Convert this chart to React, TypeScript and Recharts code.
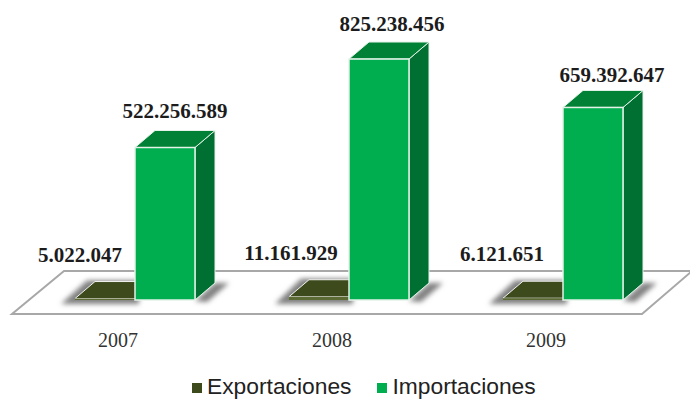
import { BarChart, Bar, XAxis, YAxis, Legend, LabelList } from 'recharts';

const years = ['2007', '2008', '2009'];
const exportaciones = [5022047, 11161929, 6121651];
const importaciones = [522256589, 825238456, 659392647];

const chartData = years.map((year, i) => ({
  year,
  Exportaciones: exportaciones[i],
  Importaciones: importaciones[i],
}));

const serif = '"Liberation Serif", serif';
const DEPTH_X = 20;
const DEPTH_Y = 17;

// how far each value label sits from its bar
const expNudge = [-25, -28, -31];
const impNudge = [10, 13, 19];
const expLift = [37, 37, 37];
const impLift = [30, 28, 25];

const fmt = (v: number) => v.toLocaleString('de-DE');

function Box3D(props: any) {
  const { x, y, width, height } = props;
  const r = x + width;
  const b = y + height;
  return (
    <g>
      <polygon
        points={`${r},${b + 1} ${r + DEPTH_X},${b - DEPTH_Y} ${r + 34},${b - DEPTH_Y} ${r + 12},${b + 2}`}
        fill="#808080"
        filter="url(#floorBlur)"
      />
      <polygon
        points={`${r},${y} ${r + DEPTH_X},${y - DEPTH_Y} ${r + DEPTH_X},${b - DEPTH_Y} ${r},${b}`}
        fill="#006F32"
        stroke="#e4f2e8"
        strokeWidth={1}
      />
      <polygon
        points={`${x},${y} ${x + DEPTH_X},${y - DEPTH_Y} ${r + DEPTH_X},${y - DEPTH_Y} ${r},${y}`}
        fill="#008135"
        stroke="#e4f2e8"
        strokeWidth={1}
      />
      <rect x={x} y={y} width={width} height={height} fill="#00AE4F" stroke="#e4f2e8" strokeWidth={1.5} />
    </g>
  );
}

function FlatBar(props: any) {
  const { x, y, width, height } = props;
  const r = x + width;
  const b = y + height;
  return (
    <g>
      <polygon
        points={`${x - 14},${b + 4} ${x + DEPTH_X - 8},${y - DEPTH_Y - 1} ${r + 4},${y - DEPTH_Y - 1} ${r + 4},${b + 4}`}
        fill="#808080"
        filter="url(#floorBlur)"
      />
      <polygon
        points={`${x},${y} ${x + DEPTH_X},${y - DEPTH_Y} ${r + DEPTH_X},${y - DEPTH_Y} ${r},${y}`}
        fill="#3C4A1C"
        stroke="#f2f2f2"
        strokeWidth={1}
      />
      <rect x={x} y={y} width={width} height={height} fill="#5c6a34" />
    </g>
  );
}

function ValueLabel(props: any) {
  const { x, y, width, value, index, nudge, lift } = props;
  return (
    <text
      x={x + width / 2 + nudge[index]}
      y={y - lift[index]}
      textAnchor="middle"
      fontFamily={serif}
      fontWeight="bold"
      fontSize={21}
      fill="#1c1c1c"
    >
      {fmt(value)}
    </text>
  );
}

function LegendRow(props: any) {
  return (
    <div style={{ display: 'flex', position: 'absolute', left: 192, top: 376, whiteSpace: 'nowrap' }}>
      {props.payload.map((item: any) => (
        <div key={item.value} style={{ display: 'flex', alignItems: 'center', marginRight: 26 }}>
          <span style={{ width: 10, height: 10, background: item.color, marginRight: 5, marginTop: 3 }} />
          <span style={{ fontFamily: '"Liberation Sans", sans-serif', fontSize: 22.8, lineHeight: '20px', color: '#222' }}>
            {item.value}
          </span>
        </div>
      ))}
    </div>
  );
}

export default function App() {
  return (
    <div style={{ position: 'absolute', left: 0, top: 0, width: 690, height: 400, background: '#fff' }}>
      <svg width={690} height={400} style={{ position: 'absolute', left: 0, top: 0 }}>
        <polygon points="64,271 692,271 642,314 12,314" fill="#fff" stroke="#a8a8a8" strokeWidth={2} />
      </svg>
      <div style={{ position: 'absolute', left: 0, top: 0 }}>
        <BarChart
          width={690}
          height={400}
          data={chartData}
          margin={{ top: 8, right: 20, bottom: 70, left: 28 }}
          barGap={0}
          barSize={60}
        >
          <defs>
            <filter id="floorBlur" x="-30%" y="-30%" width="160%" height="160%">
              <feGaussianBlur stdDeviation="2.5" />
            </filter>
          </defs>
          <XAxis
            dataKey="year"
            axisLine={false}
            tickLine={false}
            height={30}
            interval={0}
            dx={-17}
            dy={25}
            tick={{ fontFamily: serif, fontSize: 20, fill: '#333333' }}
          />
          <YAxis hide domain={[0, 1000000000]} />
          <Legend content={LegendRow} wrapperStyle={{ left: 0, top: 0, width: 0, height: 0 }} />
          <Bar dataKey="Exportaciones" fill="#3C4A1C" shape={FlatBar} isAnimationActive={false}>
            <LabelList dataKey="Exportaciones" content={(p: any) => <ValueLabel {...p} nudge={expNudge} lift={expLift} />} />
          </Bar>
          <Bar dataKey="Importaciones" fill="#00AE4F" shape={Box3D} isAnimationActive={false}>
            <LabelList dataKey="Importaciones" content={(p: any) => <ValueLabel {...p} nudge={impNudge} lift={impLift} />} />
          </Bar>
        </BarChart>
      </div>
    </div>
  );
}
